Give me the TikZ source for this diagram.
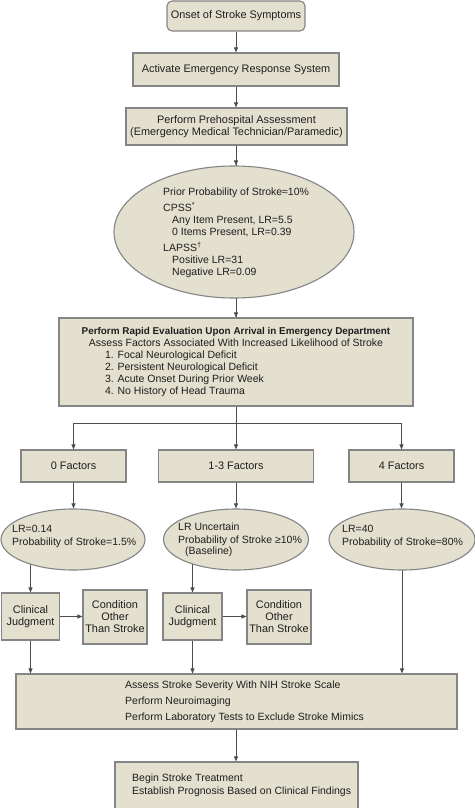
\documentclass[tikz,border=0pt]{standalone}
\usepackage{fontspec}
\setmainfont{Liberation Sans}
\usetikzlibrary{shapes.geometric,arrows.meta,backgrounds}
\definecolor{boxfill}{HTML}{E3E0CF}
\definecolor{boxline}{HTML}{858585}
\definecolor{arrowc}{HTML}{4D4D4D}
\definecolor{txt}{HTML}{1E1E1E}
\begin{document}
\begin{tikzpicture}[x=1pt,y=-1pt,
  every node/.style={font=\fontsize{10.5}{12}\selectfont, text=txt, inner sep=0pt},
  boxnode/.style={draw=boxline, fill=boxfill, line width=1.1pt, align=center},
  bigtext/.style={font=\fontsize{10.9}{12}\selectfont},
  ellnode/.style={ellipse, draw=boxline, fill=boxfill, line width=1.1pt},
  lbl/.style={align=left, anchor=north west},
  arr/.style={draw=arrowc, line width=0.8pt, -{Triangle[length=5pt,width=4pt]}},
  ln/.style={draw=arrowc, line width=0.8pt}]
\begin{scope}[on background layer]
\fill[white] (0,0) rectangle (474,808);
\end{scope}
\useasboundingbox (0,0) rectangle (474,808);

% top chain
\node[boxnode, bigtext, rounded corners=5pt, minimum width=138pt, minimum height=30pt] (onset) at (236,16) {Onset of Stroke Symptoms};
\node[boxnode, bigtext, minimum width=206pt, minimum height=33pt] (act) at (236,69.5) {Activate Emergency Response System};
\node[boxnode, bigtext, minimum width=221pt, minimum height=37pt] (pre) at (236.5,126.5) {Perform Prehospital Assessment\\(Emergency Medical Technician/Paramedic)};
\node[ellnode, minimum width=240pt, minimum height=132pt] (prior) at (234,232) {};
\node[lbl] (priortext) at (163,188) {Prior Probability of Stroke≈10\%\\[4pt]
CPSS\textsuperscript{*}\\
\hspace*{9pt}Any Item Present, LR=5.5\\
\hspace*{9pt}0 Items Present, LR=0.39\\[4pt]
LAPSS\textsuperscript{†}\\
\hspace*{9pt}Positive LR=31\\
\hspace*{9pt}Negative LR=0.09};

\node[boxnode, minimum width=354pt, minimum height=88pt] (rapid) at (236,362) {{\fontsize{9.9}{12}\selectfont\textbf{Perform Rapid Evaluation Upon Arrival in Emergency Department}}\\
Assess Factors Associated With Increased Likelihood of Stroke\\
\makebox[262pt][l]{1. Focal Neurological Deficit}\\
\makebox[262pt][l]{2. Persistent Neurological Deficit}\\
\makebox[262pt][l]{3. Acute Onset During Prior Week}\\
\makebox[262pt][l]{4. No History of Head Trauma}};

\coordinate (hl) at (73.5,423);
\coordinate (hr) at (401.5,423);

% factors
\node[boxnode, bigtext, minimum width=105pt, minimum height=32pt] (f0) at (73.5,466) {0 Factors};
\node[boxnode, bigtext, minimum width=155pt, minimum height=32pt] (f13) at (236,466) {1-3 Factors};
\node[boxnode, bigtext, minimum width=105pt, minimum height=32pt] (f4) at (401.5,466) {4 Factors};

% ellipses
\node[ellnode, minimum width=144pt, minimum height=61pt] (e0) at (73,539.5) {};
\node[ellnode, minimum width=145pt, minimum height=61pt] (e13) at (236,539.5) {};
\node[ellnode, minimum width=146pt, minimum height=61pt] (e4) at (402,539.5) {};
\node[lbl] (e0text) at (12,525) {LR=0.14\\[1pt]Probability of Stroke=1.5\%};
\node[lbl] (e13text) at (178,523) {LR Uncertain\\[1pt]Probability of Stroke ≥10\%\\[-1pt]\hspace*{7pt}(Baseline)};
\node[lbl] (e4text) at (342,525) {LR=40\\[1pt]Probability of Stroke≈80\%};

% clinical judgment
\node[boxnode, bigtext, minimum width=58pt, minimum height=47pt] (cj1) at (30.5,616.5) {Clinical\\Judgment};
\node[boxnode, bigtext, minimum width=64pt, minimum height=54pt] (co1) at (115,617) {Condition\\Other\\Than Stroke};
\node[boxnode, bigtext, minimum width=59pt, minimum height=47pt] (cj2) at (192.5,616.5) {Clinical\\Judgment};
\node[boxnode, bigtext, minimum width=64pt, minimum height=54pt] (co2) at (279,617) {Condition\\Other\\Than Stroke};

% bottom
\node[boxnode, minimum width=441pt, minimum height=55pt] (assess) at (236.5,701.5) {};
\node[lbl] (assesstext) at (125,681) {Assess Stroke Severity With NIH Stroke Scale\\[4pt]Perform Neuroimaging\\[4pt]Perform Laboratory Tests to Exclude Stroke Mimics};
\node[boxnode, minimum width=243pt, minimum height=60pt] (final) at (236.5,792) {};
\node[lbl] (finaltext) at (132,774) {Begin Stroke Treatment\\[1pt]Establish Prognosis Based on Clinical Findings};

% connectors
\draw[arr] (onset.south) -- (onset.south |- act.north);
\draw[arr] (act.south) -- (act.south |- pre.north);
\draw[arr] (pre.south -| onset.south) -- (onset.south |- prior.north);
\draw[arr] (prior.south -| onset.south) -- (onset.south |- rapid.north);
\draw[arr] (rapid.south) -- (f13.north);
\draw[ln] (hl) -- (hr);
\draw[arr] (hl) -- (f0.north);
\draw[arr] (hr) -- (f4.north);
\draw[arr] (f0.south) -- (f0.south |- e0.north);
\draw[arr] (f13.south) -- (e13.north);
\draw[arr] (f4.south) -- (f4.south |- e4.north);
\begin{scope}[on background layer]
\draw[ln] (onset.south |- pre.south) -- (onset.south |- prior.center);
\draw[ln] (onset.south |- prior.center) -- (onset.south |- rapid.north);
\draw[arr] (cj1.north |- e0.center) -- (cj1.north);
\draw[arr] (cj2.north |- e13.center) -- (cj2.north);
\draw[arr] (e4.center) -- (e4.center |- assess.north);
\end{scope}
\draw[arr] (cj1.east) -- (cj1.east -| co1.west);
\draw[arr] (cj2.east) -- (cj2.east -| co2.west);
\draw[arr] (cj1.south) -- (cj1.south |- assess.north);
\draw[arr] (cj2.south) -- (cj2.south |- assess.north);
\draw[arr] (assess.south -| onset.south) -- (onset.south |- final.north);
\end{tikzpicture}
\end{document}
